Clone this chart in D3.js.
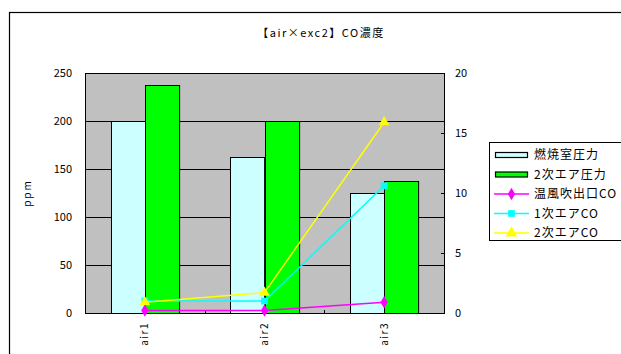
<!DOCTYPE html>
<html>
<head>
<meta charset="utf-8">
<script src="https://cdn.jsdelivr.net/npm/d3@7"></script>
<style>
  body { margin: 0; background: #fff; }
  #chart { width: 621px; height: 354px; }
  text { font-family: "Noto Sans CJK JP", "DejaVu Sans", sans-serif; }
</style>
</head>
<body>
<div id="chart"></div>
<script>
const categories = ["air1", "air2", "air3"];
const barSeries = ["燃焼室圧力", "2次エア圧力"];
const barValues = [
  [200, 163, 125],
  [238, 200, 138]
];
const lineSeries = ["温風吹出口CO", "1次エアCO", "2次エアCO"];
const lineValues = [
  [0.2, 0.2, 0.9],
  [1.0, 1.0, 10.6],
  [0.9, 1.7, 15.9]
];
const leftTicks = [0, 50, 100, 150, 200, 250];
const rightTicks = [0, 5, 10, 15, 20];

const barColors = ["#ccffff", "#00ff00"];
const lineColors = ["#ff00ff", "#00ffff", "#ffff00"];
const markers = [d3.symbolDiamond, d3.symbolSquare, d3.symbolTriangle];

function drawChart(width, height) {
  const margin = { top: 73, left: 85, right: 177, bottom: 41 };
  const innerWidth = width - margin.left - margin.right;
  const innerHeight = height - margin.top - margin.bottom;

  const root = d3.select("#chart")
    .append("svg")
    .attr("width", width)
    .attr("height", height);

  // outer chart frame
  root.append("rect")
    .attr("x", 9.5)
    .attr("y", 12.5)
    .attr("width", 700)
    .attr("height", 400)
    .attr("fill", "#fff")
    .attr("stroke", "#000")
    .attr("stroke-width", 1.2);

  root.append("text")
    .attr("x", 321)
    .attr("y", 37)
    .attr("text-anchor", "middle")
    .attr("font-size", 11)
    .style("letter-spacing", "1.5px")
    .text("【air×exc2】CO濃度");

  const svg = root.append("g")
    .attr("transform", `translate(${margin.left},${margin.top})`);

  const x = d3.scaleBand()
    .domain(categories)
    .range([0, innerWidth]);

  const yLeft = d3.scaleLinear()
    .domain([0, 250])
    .range([innerHeight, 0]);

  const yRight = d3.scaleLinear()
    .domain([0, 20])
    .range([innerHeight, 0]);

  const xInner = d3.scaleBand()
    .domain(barSeries)
    .range([x.bandwidth() * 0.215, x.bandwidth() * 0.785]);

  svg.append("rect")
    .attr("width", innerWidth)
    .attr("height", innerHeight)
    .attr("fill", "#c0c0c0");

  svg.append("g")
    .selectAll("line")
    .data(leftTicks.slice(1, -1))
    .enter()
    .append("line")
    .attr("x1", 0)
    .attr("x2", innerWidth)
    .attr("y1", d => Math.round(yLeft(d)) + 0.5)
    .attr("y2", d => Math.round(yLeft(d)) + 0.5)
    .attr("stroke", "#000");

  // bars
  barSeries.forEach((s, i) => {
    svg.append("g")
      .selectAll("rect")
      .data(barValues[i])
      .enter()
      .append("rect")
      .attr("x", (d, j) => Math.round(x(categories[j]) + xInner(s)) + 0.5)
      .attr("y", d => Math.round(yLeft(d)) + 0.5)
      .attr("width", xInner.bandwidth())
      .attr("height", d => innerHeight - Math.round(yLeft(d)))
      .attr("fill", barColors[i])
      .attr("stroke", "#000")
      .attr("stroke-width", 1);
  });

  svg.append("rect")
    .attr("x", 0.5)
    .attr("y", 0.5)
    .attr("width", innerWidth)
    .attr("height", innerHeight)
    .attr("fill", "none")
    .attr("stroke", "#000");

  // axes
  svg.append("g")
    .call(d3.axisLeft(yLeft).tickValues(leftTicks).tickSize(0).tickPadding(13))
    .call(g => g.select(".domain").remove())
    .selectAll("text")
    .attr("font-size", 11)
    .attr("font-family", "Liberation Sans, Arial, sans-serif");

  svg.append("g")
    .attr("transform", `translate(${innerWidth},0)`)
    .call(d3.axisRight(yRight).tickValues(rightTicks).tickSize(3).tickPadding(8))
    .call(g => g.select(".domain").remove())
    .call(g => g.selectAll("line").attr("x1", -3).attr("x2", 0))
    .selectAll("text")
    .attr("font-size", 11)
    .attr("font-family", "Liberation Sans, Arial, sans-serif");

  svg.append("g")
    .attr("transform", `translate(0,${innerHeight})`)
    .call(d3.axisBottom(x).tickSize(0).tickPadding(0))
    .call(g => g.select(".domain").remove())
    .selectAll("text")
    .attr("font-size", 10)
    .attr("transform", "rotate(-90)")
    .attr("text-anchor", "end")
    .attr("dy", "0.35em")
    .attr("x", -9)
    .attr("y", 0)
    .style("letter-spacing", "1.5px");

  // category boundary ticks
  svg.append("g")
    .selectAll("line")
    .data(categories.slice(1))
    .enter()
    .append("line")
    .attr("x1", d => Math.round(x(d)) + 0.5)
    .attr("x2", d => Math.round(x(d)) + 0.5)
    .attr("y1", innerHeight - 3)
    .attr("y2", innerHeight)
    .attr("stroke", "#000");

  root.append("text")
    .attr("transform", "translate(31,193) rotate(-90)")
    .attr("text-anchor", "middle")
    .attr("font-size", 10)
    .style("letter-spacing", "2px")
    .text("ppm");

  // lines
  const line = d3.line()
    .x((d, j) => x(categories[j]) + x.bandwidth() / 2)
    .y(d => yRight(d));

  lineSeries.forEach((s, i) => {
    svg.append("path")
      .datum(lineValues[i])
      .attr("d", line)
      .attr("fill", "none")
      .attr("stroke", lineColors[i])
      .attr("stroke-width", 1.5);
    svg.append("g")
      .selectAll("path")
      .data(lineValues[i])
      .enter()
      .append("path")
      .attr("transform", (d, j) => `translate(${x(categories[j]) + x.bandwidth() / 2},${yRight(d)})`)
      .attr("d", d3.symbol().type(markers[i]).size(i === 2 ? 50 : 45))
      .attr("fill", lineColors[i]);
  });

  // legend
  const legend = root.append("g");
  legend.append("rect")
    .attr("x", 489.5)
    .attr("y", 142.5)
    .attr("width", 200)
    .attr("height", 98)
    .attr("fill", "#fff")
    .attr("stroke", "#000");

  const items = barSeries.concat(lineSeries);
  items.forEach((name, k) => {
    const cy = 155 + k * 19.5;
    const g = legend.append("g").attr("transform", `translate(0,${cy})`);
    if (k < 2) {
      g.append("rect")
        .attr("x", 495.5)
        .attr("y", -2.5)
        .attr("width", 32)
        .attr("height", 5)
        .attr("fill", barColors[k])
        .attr("stroke", "#000")
        .attr("stroke-width", 1.2);
    } else {
      const i = k - 2;
      g.append("line")
        .attr("x1", 494)
        .attr("x2", 529)
        .attr("stroke", lineColors[i])
        .attr("stroke-width", 1.5);
      g.append("path")
        .attr("transform", "translate(511.5,0)")
        .attr("d", d3.symbol().type(markers[i]).size(i === 2 ? 60 : 45))
        .attr("fill", lineColors[i]);
    }
    g.append("text")
      .attr("x", 534)
      .attr("y", 0)
      .attr("dy", "0.35em")
      .attr("font-size", 12)
      .style("letter-spacing", "1px")
      .text(name);
  });
}

drawChart(621, 354);
</script>
</body>
</html>
